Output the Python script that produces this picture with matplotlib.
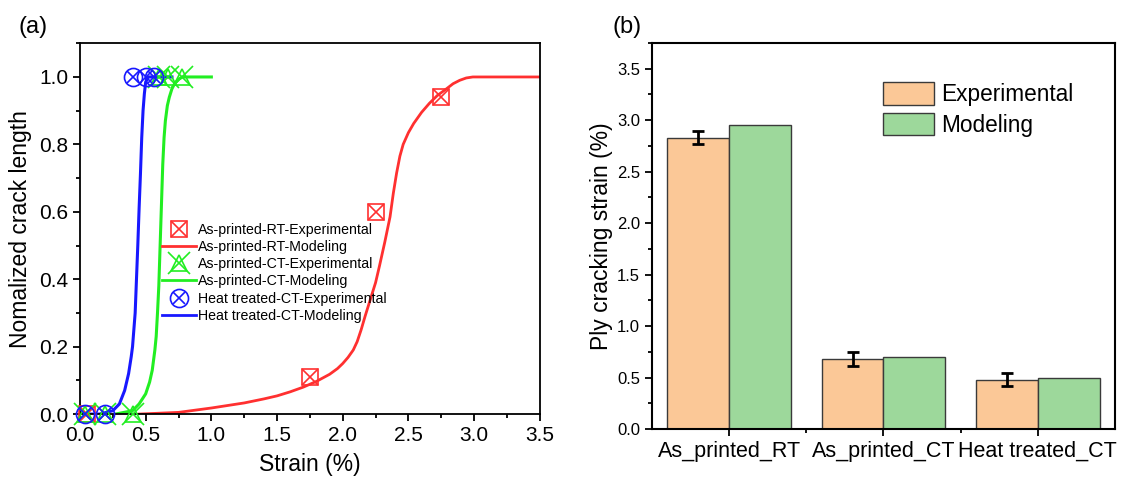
import matplotlib
matplotlib.use("Agg")
import matplotlib.pyplot as plt
from matplotlib.ticker import MultipleLocator
from matplotlib.lines import Line2D

plt.rcParams['font.family'] = ['Liberation Sans', 'DejaVu Sans']

# ---------------- data: panel (a) ----------------
rt_exp_x = [0.05, 1.75, 2.25, 2.75]
rt_exp_y = [0.0, 0.11, 0.60, 0.94]
rt_mod_x = [0.45, 0.75, 1.0, 1.25, 1.4, 1.5, 1.6, 1.7, 1.8, 1.9, 1.96, 2.0, 2.04, 2.08, 2.11,
            2.14, 2.17, 2.21, 2.25, 2.28, 2.32, 2.36, 2.385, 2.41, 2.435, 2.46, 2.5, 2.54,
            2.6, 2.66, 2.72, 2.79, 2.84, 2.89, 2.94, 2.99, 3.5]
rt_mod_y = [0.0, 0.005, 0.018, 0.033, 0.045, 0.054, 0.066, 0.08, 0.097, 0.118, 0.135, 0.15,
            0.168, 0.19, 0.215, 0.25, 0.29, 0.34, 0.39, 0.44, 0.51, 0.585, 0.655, 0.715,
            0.765, 0.80, 0.835, 0.862, 0.895, 0.922, 0.945, 0.965, 0.98, 0.99, 0.997, 1.0, 1.0]

ct_exp_x = [0.04, 0.19, 0.40, 0.60, 0.67, 0.78]
ct_exp_y = [0.0, 0.0, 0.0, 1.0, 1.0, 1.0]
ct_mod_x = [0.27, 0.40, 0.45, 0.50, 0.53, 0.55, 0.57, 0.58, 0.59, 0.60, 0.61, 0.62, 0.63,
            0.64, 0.65, 0.665, 0.68, 0.70, 0.72, 0.75, 0.78, 1.0]
ct_mod_y = [0.0, 0.01, 0.03, 0.06, 0.095, 0.13, 0.19, 0.23, 0.30, 0.38, 0.50, 0.62, 0.74,
            0.82, 0.87, 0.915, 0.94, 0.965, 0.98, 0.993, 1.0, 1.0]

ht_exp_x = [0.04, 0.19, 0.40, 0.50, 0.56]
ht_exp_y = [0.0, 0.0, 1.0, 1.0, 1.0]
ht_mod_x = [0.0, 0.15, 0.25, 0.30, 0.34, 0.37, 0.39, 0.40, 0.41, 0.42, 0.43, 0.44, 0.45,
            0.46, 0.47, 0.48, 0.49, 0.50, 0.52, 0.70]
ht_mod_y = [0.0, 0.0, 0.01, 0.03, 0.07, 0.12, 0.17, 0.20, 0.25, 0.30, 0.40, 0.50, 0.61,
            0.71, 0.82, 0.90, 0.95, 0.985, 1.0, 1.0]

# ---------------- data: panel (b) ----------------
categories = ['As_printed_RT', 'As_printed_CT', 'Heat treated_CT']
exp_vals = [2.83, 0.68, 0.48]
exp_err = [0.065, 0.065, 0.065]
mod_vals = [2.95, 0.70, 0.50]

RED = '#FF3030'
GREEN = '#22EE22'
BLUE = '#1818FF'

fig = plt.figure(figsize=(11.41, 4.86), dpi=100)

# ---------------- panel (a) ----------------
ax1 = fig.add_axes([0.0701, 0.148, 0.403, 0.763])
ax1.plot(rt_mod_x, rt_mod_y, color=RED, lw=2, zorder=2, solid_joinstyle='round')
ax1.plot(ct_mod_x, ct_mod_y, color=GREEN, lw=2.2, zorder=2, solid_joinstyle='round')
ax1.plot(ht_mod_x, ht_mod_y, color=BLUE, lw=2.2, zorder=2, solid_joinstyle='round')

r1, = ax1.plot(rt_exp_x, rt_exp_y, ls='none', marker='s', ms=11, mfc='none', mec=RED, mew=1.2, clip_on=False, zorder=3)
r2, = ax1.plot(rt_exp_x, rt_exp_y, ls='none', marker='x', ms=11, mec=RED, mew=1.2, clip_on=False, zorder=3)
g1, = ax1.plot(ct_exp_x, ct_exp_y, ls='none', marker='x', ms=16, mec=GREEN, mew=1.2, clip_on=False, zorder=3)
g2, = ax1.plot(ct_exp_x, ct_exp_y, ls='none', marker='^', ms=11, mfc='none', mec=GREEN, mew=1.2, clip_on=False, zorder=3)
b1, = ax1.plot(ht_exp_x, ht_exp_y, ls='none', marker='o', ms=13, mfc='none', mec=BLUE, mew=1.2, clip_on=False, zorder=3)
b2, = ax1.plot(ht_exp_x, ht_exp_y, ls='none', marker='x', ms=9, mec=BLUE, mew=1.2, clip_on=False, zorder=3)

lr = Line2D([], [], color=RED, lw=2)
lg = Line2D([], [], color=GREEN, lw=2)
lb = Line2D([], [], color=BLUE, lw=2)

ax1.legend([(r1, r2), lr, (g1, g2), lg, (b1, b2), lb],
           ['As-printed-RT-Experimental', 'As-printed-RT-Modeling',
            'As-printed-CT-Experimental', 'As-printed-CT-Modeling',
            'Heat treated-CT-Experimental', 'Heat treated-CT-Modeling'],
           loc='upper left', bbox_to_anchor=(0.178, 0.515), frameon=False,
           fontsize=10.2, labelspacing=0.22, handlelength=2.4, handletextpad=0.15,
           borderaxespad=0, borderpad=0)

ax1.set_xlim(0, 3.5)
ax1.set_ylim(0, 1.1)
ax1.xaxis.set_minor_locator(MultipleLocator(0.25))
ax1.yaxis.set_minor_locator(MultipleLocator(0.1))
ax1.set_xticks([0, 0.5, 1.0, 1.5, 2.0, 2.5, 3.0, 3.5])
ax1.set_xticklabels(['0.0', '0.5', '1.0', '1.5', '2.0', '2.5', '3.0', '3.5'])
ax1.set_yticks([0, 0.2, 0.4, 0.6, 0.8, 1.0])
ax1.set_yticklabels(['0.0', '0.2', '0.4', '0.6', '0.8', '1.0'])
ax1.tick_params(which='both', direction='out', labelsize=15, width=1.3, top=False, right=False)
ax1.tick_params(which='major', length=5)
ax1.tick_params(which='minor', length=3)
for s in ax1.spines.values():
    s.set_linewidth(1.3)
ax1.set_xlabel('Strain (%)', fontsize=16.5, labelpad=6)
ax1.set_ylabel('Nomalized crack length', fontsize=16.5, labelpad=5)
fig.text(33 / 1141, 1 - 27 / 486, '(a)', fontsize=17, ha='center', va='center')

# ---------------- panel (b) ----------------
ax2 = fig.add_axes([0.5714, 0.1173, 0.4058, 0.7942])
xs = list(range(len(categories)))
w = 0.4
exp_pos = [x - w / 2 for x in xs]
mod_pos = [x + w / 2 for x in xs]
ax2.bar(exp_pos, exp_vals, width=w, color='#FBC897', edgecolor='#3a3a3a',
        linewidth=1.0, label='Experimental', zorder=2)
ax2.bar(mod_pos, mod_vals, width=w, color='#9DD89B', edgecolor='#3a3a3a',
        linewidth=1.0, label='Modeling', zorder=2)
ax2.errorbar(exp_pos, exp_vals, yerr=exp_err, fmt='none', ecolor='black',
             elinewidth=2, capsize=4, capthick=2, zorder=3)

ax2.set_xlim(-0.5, 2.5)
ax2.set_ylim(0, 3.75)
ax2.set_xticks(xs)
ax2.set_xticklabels(categories)
ax2.set_xticks([0.5, 1.5], minor=True)
ax2.yaxis.set_minor_locator(MultipleLocator(0.25))
ax2.set_yticks([0, 0.5, 1.0, 1.5, 2.0, 2.5, 3.0, 3.5])
ax2.set_yticklabels(['0.0', '0.5', '1.0', '1.5', '2.0', '2.5', '3.0', '3.5'])
ax2.tick_params(axis='y', which='both', direction='out', labelsize=12, width=1.3)
ax2.tick_params(axis='x', which='both', direction='out', labelsize=15.5, width=1.3)
ax2.tick_params(which='major', length=5)
ax2.tick_params(which='minor', length=3)
for s in ax2.spines.values():
    s.set_linewidth(1.5)
ax2.set_ylabel('Ply cracking strain (%)', fontsize=16.5, labelpad=3)
ax2.legend(loc='upper left', bbox_to_anchor=(0.50, 0.898), frameon=False, fontsize=16.3,
           labelspacing=0.28, handlelength=2.25, handleheight=1.15, handletextpad=0.3,
           borderaxespad=0, borderpad=0)
fig.text(627 / 1141, 1 - 27 / 486, '(b)', fontsize=17, ha='center', va='center')

fig.savefig('out.png', dpi=100)
